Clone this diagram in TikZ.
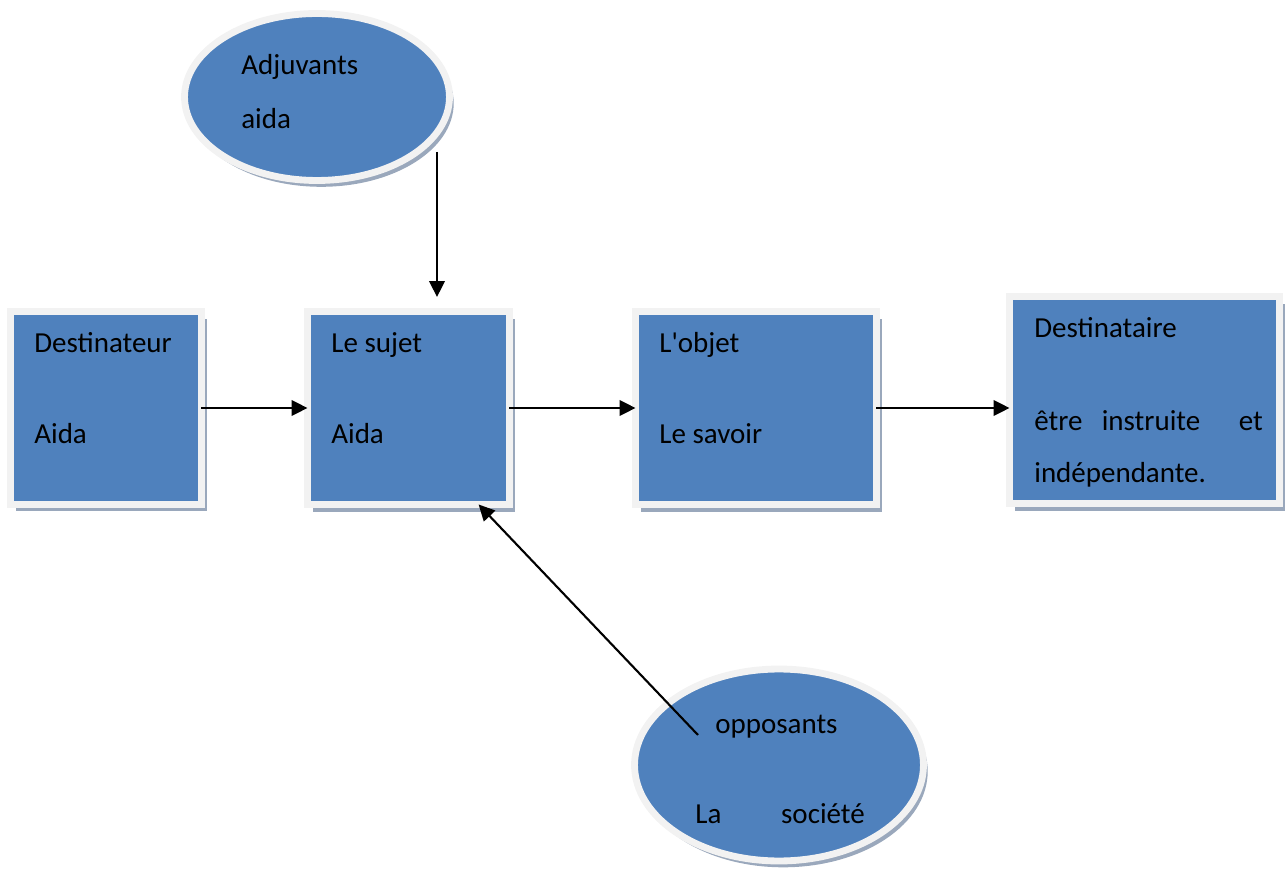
\documentclass[tikz,border=0pt]{standalone}
\usepackage{fontspec}
\setmainfont{Carlito}
\usepackage{tikz}
\usetikzlibrary{shapes.geometric}
\usetikzlibrary{shadows}
\usetikzlibrary{arrows.meta}
\definecolor{bleu}{RGB}{79,129,189}
\definecolor{bord}{RGB}{242,242,242}
\definecolor{ombre}{RGB}{154,168,188}
\tikzset{
  cadre/.style={rectangle, fill=bleu, draw=bord, line width=3.9pt, outer sep=0pt,
    drop shadow={shadow xshift=3.2pt, shadow yshift=-4pt, fill=ombre, opacity=1}},
  bulle/.style={ellipse, fill=bleu, draw=bord, line width=3.9pt, outer sep=0pt, inner sep=0pt,
    drop shadow={shadow xshift=2.4pt, shadow yshift=-3.6pt, fill=ombre, opacity=1}},
  lbl/.style={anchor=base west, inner sep=0pt, font=\fontsize{16.5}{20}\selectfont},
  fleche/.style={-{Triangle[length=3.2mm,width=3.1mm]}, line width=1.2pt}
}
\begin{document}
\begin{tikzpicture}[x=0.02cm, y=-0.02cm]
\useasboundingbox (0,0) rectangle (1285,871);

% the four boxes
\node[cadre, minimum width=3.82cm, minimum height=3.85cm] (destinateur) at (106,408) {};
\node[cadre, minimum width=4.04cm, minimum height=3.86cm] (sujet) at (408.5,408) {};
\node[cadre, minimum width=4.82cm, minimum height=3.86cm] (objet) at (756,408) {};
\node[cadre, minimum width=5.40cm, minimum height=4.14cm] (destinataire) at (1144.5,400) {};

% the two ellipses
\node[bulle, minimum width=5.30cm, minimum height=3.34cm] (adjuvants) at (317,97) {};
\node[bulle, minimum width=5.78cm, minimum height=3.84cm] (opposants) at (779,765) {};

\node[lbl] (destinateurA) at (34,353) {Destinateur};
\node[lbl] (destinateurB) at (34,444) {Aida};
\node[lbl] (sujetA) at (331,353) {Le sujet};
\node[lbl] (sujetB) at (331,444) {Aida};
\node[lbl] (objetA) at (659,353) {L\textquotesingle objet};
\node[lbl] (objetB) at (659,444) {Le savoir};
\node[lbl] (destinataireA) at (1034,338) {Destinataire};
\node[lbl] (destinataireB) at (1034,431) {être\hspace{11pt}instruite\hspace{22pt}et};
\node[lbl] (destinataireC) at (1034,482) {indépendante.};
\node[lbl] (adjuvantsA) at (241,75) {Adjuvants};
\node[lbl] (adjuvantsB) at (241,129) {aida};
\node[lbl] (opposantsA) at (715,733) {opposants};
\node[lbl] (opposantsB) at (695,823) {La\hspace{34pt}société};

\coordinate (piedA) at (437,152);
\coordinate (piedO) at (698,735);

\draw[fleche] (destinateur.east) -- (sujet.west);
\draw[fleche] (sujet.east) -- (objet.west);
\draw[fleche] (objet.east) -- (destinataire.west |- objet.east);
\draw[fleche, shorten >=0.29cm] (piedA) -- (piedA |- sujet.north);
\draw[fleche] (piedO) -- (sujet.-54);
\end{tikzpicture}
\end{document}
